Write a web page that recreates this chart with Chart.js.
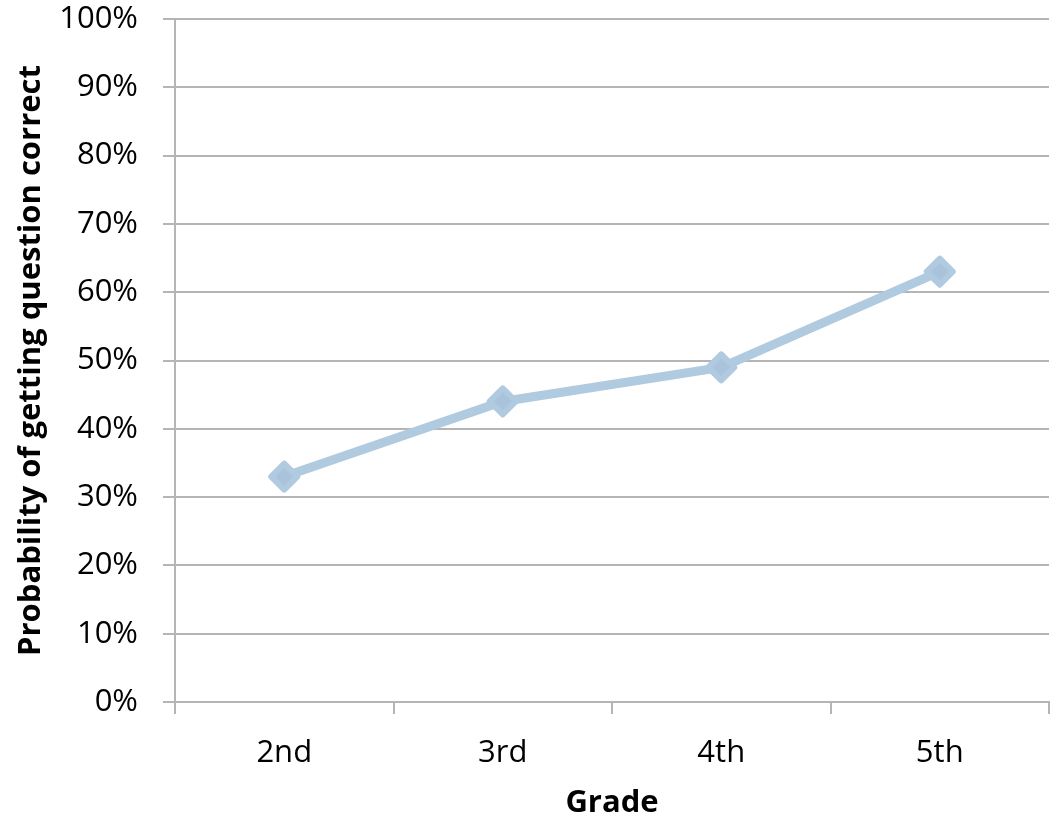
<!DOCTYPE html>
<html>
<head>
<meta charset="utf-8">
<script src="https://cdn.jsdelivr.net/npm/chart.js@4"></script>
<style>
  html, body { margin: 0; padding: 0; background: #ffffff; }
  #wrap { width: 1057px; height: 822px; position: relative; }
</style>
</head>
<body>
<div id="wrap"><canvas id="chart" width="1057" height="822"></canvas></div>
<script>
// Grade levels along the horizontal axis
const grades = ['2nd', '3rd', '4th', '5th'];
// Share of students answering correctly, in percent
const probabilityCorrect = [33, 44, 49, 63];
// Vertical axis range and step, in percent
const yTicks = [0, 10, 20, 30, 40, 50, 60, 70, 80, 90, 100];

const FONT = '"Open Sans", "Liberation Sans", sans-serif';
const lineBlue = '#b0cae0';

// Rounded corners on the diamond markers
const roundMarkers = {
  id: 'roundMarkers',
  beforeDatasetsDraw(chart) { chart.ctx.save(); chart.ctx.lineJoin = 'round'; },
  afterDatasetsDraw(chart) { chart.ctx.restore(); }
};

new Chart(document.getElementById('chart'), {
  type: 'line',
  data: {
    labels: grades,
    datasets: [{
      data: probabilityCorrect,
      borderColor: lineBlue,
      borderWidth: 9,
      tension: 0,
      pointStyle: 'rectRot',
      pointRadius: 13,
      pointHoverRadius: 13,
      pointBorderWidth: 6,
      pointBackgroundColor: '#a8c3db',
      pointBorderColor: lineBlue
    }]
  },
  plugins: [roundMarkers],
  options: {
    responsive: false,
    animation: false,
    events: [],
    layout: { padding: 0, autoPadding: false },
    plugins: { legend: { display: false }, tooltip: { enabled: false } },
    scales: {
      x: {
        type: 'category',
        offset: true,
        grid: {
          offset: true,
          drawOnChartArea: false,
          drawTicks: true,
          tickLength: 12,
          color: '#b5b5b5',
          lineWidth: 2
        },
        border: { display: true, color: '#b5b5b5', width: 2 },
        ticks: {
          color: '#000000',
          font: { family: FONT, size: 31 },
          padding: 21,
          maxRotation: 0
        },
        title: {
          display: true,
          text: 'Grade',
          color: '#000000',
          font: { family: FONT, size: 31, weight: 'bold' },
          padding: { top: 0, bottom: 0 }
        },
        afterFit(scale) {
          scale.height = 120;
          scale.paddingLeft = 0;
          scale.paddingRight = 8;
        }
      },
      y: {
        min: 0,
        max: 100,
        afterBuildTicks(scale) { scale.ticks = yTicks.map(v => ({ value: v })); },
        grid: {
          color: '#b5b5b5',
          lineWidth: 2,
          drawTicks: true,
          tickLength: 12
        },
        border: { display: true, color: '#b5b5b5', width: 2 },
        ticks: {
          color: '#000000',
          font: { family: FONT, size: 31 },
          padding: 25,
          callback: v => v + '%'
        },
        title: {
          display: true,
          text: 'Probability of getting question correct',
          color: '#000000',
          font: { family: FONT, size: 31, weight: 'bold' },
          padding: { top: 13, bottom: 0 }
        },
        afterFit(scale) {
          scale.width = 175;
          scale.paddingTop = 19;
          scale.paddingBottom = 0;
        }
      }
    }
  }
});
</script>
</body>
</html>
